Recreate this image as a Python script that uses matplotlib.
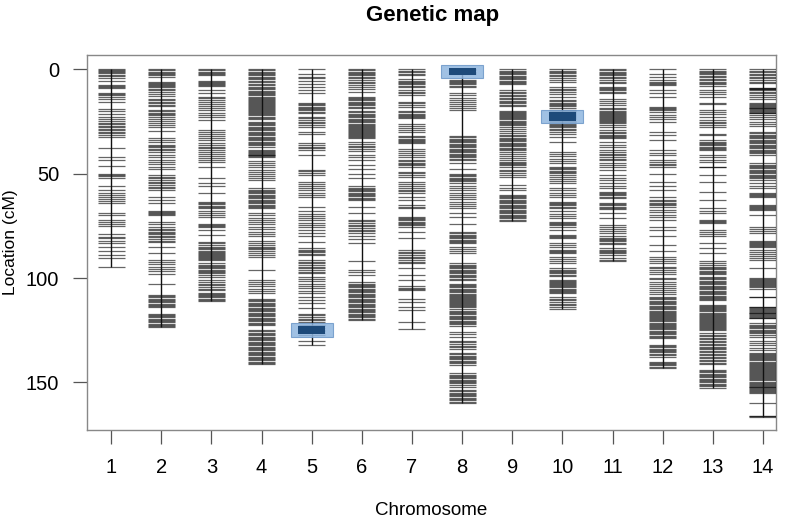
import matplotlib
matplotlib.use("Agg")
import matplotlib.pyplot as plt
from matplotlib.patches import Rectangle

plt.rcParams['font.family'] = ['Liberation Sans', 'DejaVu Sans']

# marker positions (cM), one list per chromosome
chr1 = [0, 0.4, 0.8, 1.3, 1.8, 2.5, 3.2, 4.1, 5.4, 7.4, 7.9, 8.4, 9.0, 11.4, 11.9, 12.4, 13.0, 14.1, 15.5,
        19.0, 20.1, 21.2, 23.0, 23.8, 24.6, 25.5, 26.3, 27.2, 27.8, 28.4, 29.1, 29.9, 30.6, 31.4, 32.3,
        37.9, 42.0, 43.2, 46.1, 50.0, 50.6, 51.2, 52.0, 56.1, 58.0, 59.0, 60.1, 61.0, 62.0, 63.0, 64.1,
        69.0, 69.6, 72.1, 73.2, 74.0, 75.1, 79.0, 80.1, 81.0, 82.1, 83.2, 85.0, 87.1, 89.0, 90.2, 94.8]
chr2 = [0, 0.5, 1.0, 1.6, 2.2, 2.8, 3.4, 6.0, 6.4, 6.9, 7.3, 7.8, 8.3, 9.2, 10.1, 11.0, 12.0, 12.9,
        14.1, 14.8, 15.5, 16.2, 16.9, 17.6, 19.5, 20.1, 20.7, 21.4, 22.0, 22.6, 23.6, 24.5, 25.5, 26.5, 27.4,
        29.4, 33.0, 33.8, 34.6, 36.0, 36.7, 37.4, 38.1, 38.8, 39.5, 41.0, 42.2, 43.4, 44.5, 45.5, 46.6, 47.7,
        50.6, 51.4, 52.2, 53.0, 53.8, 54.6, 55.4, 56.2, 57.0, 57.8, 61.0, 62.7, 63.9,
        68.0, 68.5, 69.0, 69.5, 70.0, 73.1, 74.2, 75.3, 76.3, 77.0, 77.7, 78.4, 79.1, 79.8, 80.5, 81.2, 82.0, 82.8,
        85.0, 88.1, 91.2, 92.3, 93.4, 94.6, 95.7, 96.8, 97.9, 102.6,
        108.0, 108.6, 109.2, 109.8, 110.4, 111.0, 111.6, 112.2, 112.8, 113.4, 114.0,
        117.0, 117.6, 118.2, 118.8, 119.4, 120.0, 120.6, 121.2, 121.8, 122.4, 123.0, 123.5]
chr3 = [0, 0.5, 1.0, 1.5, 2.1, 2.7, 5.4, 5.9, 6.4, 7.0, 7.5, 8.0, 10.0, 11.5, 13.0, 13.8, 14.7, 15.5,
        16.5, 17.5, 18.5, 19.5, 21.0, 21.8, 22.6, 24.3, 29.0, 30.0, 31.0, 32.0, 33.0, 34.0,
        35.5, 36.3, 37.1, 37.9, 38.7, 39.5, 40.5, 41.5, 42.5, 43.5, 44.5, 47.0, 52.0, 54.6, 56.0, 59.4,
        63.4, 64.0, 64.6, 65.3, 66.0, 66.6, 68.0, 68.9, 69.8, 70.6, 74.0, 74.5, 75.0, 75.4, 77.0, 79.4,
        82.6, 83.4, 84.2, 85.0, 85.8, 86.3, 86.8, 87.3, 87.8, 88.3, 88.8, 89.3, 89.8, 90.3, 90.9, 91.4,
        93.0, 93.6, 94.2, 94.8, 95.4, 96.0, 96.6, 97.2, 97.8, 98.5, 99.3,
        101.0, 101.8, 102.6, 103.4, 104.2, 105.0, 105.8, 107.0, 107.5, 108.0, 108.6, 109.2, 109.8, 110.3, 110.8]
chr4 = [0, 0.5, 1.0, 1.6, 2.2, 2.8, 3.4, 4.0, 4.7, 5.4, 6.1, 6.8, 7.5, 8.2, 8.9, 9.6, 10.3, 11.0,
        11.5, 12.0, 12.5, 13.0, 13.5, 14.0, 14.5, 15.0, 15.5, 16.0, 16.5, 17.0, 17.5, 18.0, 18.5, 19.0,
        19.5, 20.0, 20.5, 21.0, 21.5, 22.0, 22.6, 23.2, 23.8,
        25.0, 25.6, 26.2, 26.8, 27.4, 28.0, 28.6, 29.2, 29.8, 30.4, 31.0, 31.6, 32.2, 32.8, 33.4, 34.0,
        34.6, 35.2, 35.8, 36.4, 37.0, 38.7, 39.2, 39.6, 40.0, 40.4, 40.8, 41.2, 41.6, 42.0,
        44.0, 45.0, 46.0, 47.0, 48.0, 49.0, 50.0, 51.0, 52.0, 53.0,
        57.0, 57.6, 58.2, 58.8, 59.4, 60.0, 60.6, 61.2, 61.8, 62.4, 63.0, 63.6, 64.2, 64.8, 65.4, 66.0, 66.6,
        69.0, 70.0, 71.0, 72.0, 73.0, 74.0, 75.5, 76.6, 77.7, 78.8, 80.0,
        82.0, 83.0, 84.0, 85.0, 85.6, 86.2, 87.0, 88.0, 89.0, 90.0, 96.0,
        101.0, 102.0, 103.0, 104.0, 105.0, 106.0, 107.0,
        110.0, 110.6, 111.2, 111.8, 112.4, 113.0, 113.6, 114.2, 114.8, 115.4, 116.0, 116.6, 117.2, 117.8,
        118.4, 119.0, 119.6, 120.2, 120.8, 121.4, 122.0, 122.6,
        125.0, 125.6, 126.2, 126.8, 127.4, 128.0, 128.6, 129.2, 129.8, 130.4, 131.0, 131.6, 132.2, 132.8,
        133.4, 134.0, 134.6, 135.2, 135.8, 136.4, 137.0, 137.6, 138.2, 138.8, 139.4, 140.0, 140.6, 141.3]
chr5 = [0, 2.0, 3.5, 4.3, 5.4, 7.0, 8.3, 10.0, 11.5, 16.0, 16.6, 17.2, 17.8, 18.4, 19.0, 19.6, 20.2, 20.8,
        22.7, 23.5, 24.3, 25.1, 25.9, 26.7, 27.5, 30.0, 31.0, 35.5, 36.3, 37.1, 37.9, 38.7, 41.0,
        48.0, 48.9, 49.8, 50.6, 54.0, 55.0, 56.0, 57.0, 58.0, 59.0, 60.0, 61.0, 66.0,
        68.0, 69.1, 70.2, 71.4, 72.4, 73.5, 74.5, 75.4, 77.0, 78.6, 80.0, 82.6,
        85.8, 86.4, 87.0, 87.6, 88.3, 89.0, 91.4, 92.2, 93.0, 93.8, 94.6, 95.4, 96.2, 97.0, 97.8,
        99.4, 100.5, 101.6, 102.7, 103.8, 104.9, 106.0, 107.0, 109.0, 110.5, 112.0, 114.5,
        117.0, 117.8, 118.6, 119.4, 120.2, 121.0, 122.5, 123.2, 124.0, 124.8, 125.6, 126.4, 127.3, 130.0, 132.0]
chr6 = [0, 0.5, 1.0, 1.6, 2.2, 2.7, 3.5, 4.3, 5.1, 5.9, 6.7, 7.5, 8.5, 9.6, 10.7,
        13.0, 13.6, 14.2, 14.8, 15.4, 16.0, 16.6, 17.2, 17.9, 18.7,
        20.0, 20.6, 21.2, 21.8, 22.4, 23.0, 23.6, 24.2, 24.8, 25.4, 26.0,
        26.5, 27.0, 27.5, 28.0, 28.5, 29.0, 29.5, 30.0, 30.5, 31.0, 31.5, 32.0, 32.5, 33.0,
        35.0, 35.8, 36.6, 37.4, 38.2, 39.0, 41.0, 42.2, 43.4, 46.0, 47.5, 50.0, 52.0,
        56.0, 56.6, 57.2, 57.8, 58.4, 59.0, 59.6, 60.2, 60.8, 61.4, 62.0, 62.6, 66.0, 69.0,
        72.0, 72.8, 73.6, 74.4, 75.2, 76.0, 76.8, 77.6, 78.6, 80.0, 81.5, 83.0, 92.0, 96.0, 97.3, 98.6,
        102.0, 102.6, 103.2, 103.8, 104.4, 105.0, 105.6, 106.2, 106.8, 107.4, 108.0, 108.6, 109.2, 109.8,
        110.4, 111.0, 111.6, 112.2, 112.8, 113.4, 114.0, 114.6, 115.2, 115.8, 116.4, 117.0, 117.6, 118.2,
        118.8, 119.4, 119.9]
chr7 = [0, 0.7, 1.4, 2.0, 2.7, 4.8, 5.4, 6.0, 6.6, 7.2, 7.8, 8.3, 10.0, 10.8, 11.5, 12.3,
        15.5, 16.3, 17.1, 18.0, 20.0, 20.6, 21.2, 21.8, 22.4, 23.0, 23.5, 26.0, 27.0, 28.0, 29.0, 30.0,
        32.0, 32.6, 33.2, 33.8, 34.4, 35.0, 35.5, 38.0, 39.0, 40.0, 41.0, 42.0,
        43.5, 44.1, 44.7, 45.3, 45.9, 46.7, 49.0, 49.8, 50.6, 51.5, 54.0, 54.9, 55.8, 56.7, 57.6, 58.5, 59.4,
        61.0, 62.6, 65.0, 65.8, 66.6, 70.6, 71.2, 71.8, 72.4, 73.0, 73.6, 74.2, 74.8, 75.4, 78.0, 81.0,
        86.6, 87.4, 88.2, 89.0, 89.8, 90.6, 91.4, 92.2, 93.0, 95.4, 98.6, 101.0,
        104.0, 104.6, 105.2, 105.8, 110.0, 111.4, 114.0, 115.3, 121.0, 124.6]
chr8 = [0, 0.5, 1.0, 1.5, 2.0, 5.0, 5.5, 6.0, 6.6, 7.2, 7.8, 8.3,
        11.5, 12.5, 13.5, 14.5, 15.5, 16.5, 17.5, 18.5, 19.5,
        32.0, 32.6, 33.2, 33.8, 34.4, 35.0, 35.6, 36.2, 36.8, 37.4, 38.0, 38.6, 39.2, 39.8, 40.4, 41.0,
        41.6, 42.2, 42.8, 43.5, 45.0, 47.5, 50.0, 50.6, 51.2, 51.8, 52.4, 53.0, 53.6, 54.2,
        56.0, 57.0, 58.0, 59.0, 60.0, 61.0, 62.0, 63.5, 64.5, 65.5, 66.6, 69.0, 70.6, 74.0,
        78.0, 78.6, 79.2, 79.8, 80.4, 81.0, 81.6, 82.2, 82.8, 83.4, 85.0, 86.0, 87.0, 88.0,
        93.0, 93.6, 94.2, 94.8, 95.4, 96.0, 96.6, 97.2, 97.8, 98.4, 99.0, 99.6, 100.3, 101.0,
        102.6, 103.2, 103.8, 104.4, 105.0, 105.6, 106.2, 106.8, 107.4, 107.9, 108.4, 108.9, 109.4, 109.9,
        110.4, 110.9, 111.4, 111.9, 112.4, 112.9, 113.4, 113.8,
        115.0, 115.6, 116.2, 116.8, 117.4, 118.0, 118.6, 119.2, 119.8, 120.4, 121.0, 121.6, 122.2, 123.0,
        125.7, 126.8, 128.0, 130.0, 130.8, 131.6, 132.4, 133.2, 134.0,
        136.0, 136.6, 137.2, 137.8, 138.4, 139.0, 139.6, 140.2, 140.8, 141.5,
        145.7, 146.3, 146.9, 147.5, 148.1, 148.7, 149.3, 149.9, 150.5, 151.2, 152.0,
        153.7, 154.3, 154.9, 155.5, 156.1, 156.7, 157.3, 157.9, 158.5, 159.2, 160.0]
chr9 = [0, 0.6, 1.2, 1.8, 2.4, 3.0, 3.6, 4.2, 4.8, 5.4, 6.0, 6.6, 7.2,
        10.0, 10.7, 11.4, 12.1, 12.8, 13.5, 14.2, 14.9, 15.6, 16.3, 17.0, 17.7,
        20.0, 20.5, 21.0, 21.5, 22.0, 22.5, 23.0, 23.5, 24.0, 24.5, 25.0, 25.5, 26.0,
        26.7, 27.7, 28.7, 29.7, 30.7, 31.5, 32.1, 32.7, 33.3, 33.9, 34.5, 35.1, 35.7, 36.3, 36.9, 37.5,
        38.1, 38.7, 39.5, 40.5, 41.5, 42.5, 43.5, 44.2, 44.8, 45.4, 46.0, 46.7,
        48.0, 48.9, 49.8, 50.6, 51.5, 55.5, 56.7, 58.0,
        60.0, 60.6, 61.2, 61.8, 62.4, 63.0, 63.6, 64.2, 64.8, 65.4, 66.0, 66.6, 67.2, 67.8, 68.4, 69.0,
        69.6, 70.2, 70.8, 71.4, 72.0, 72.6]
chr10 = [0, 0.6, 1.2, 1.8, 2.5, 3.3, 4.1, 5.0, 6.0, 8.3, 9.2, 10.1, 11.0, 12.0, 13.0,
         14.7, 15.3, 15.9, 16.5, 17.1, 17.7, 18.3, 19.5, 20.0, 20.5, 21.0, 21.5, 22.0, 22.5, 23.0, 23.5,
         24.0, 24.5, 25.0, 26.0, 26.6, 27.2, 27.8, 28.4, 29.0, 30.0, 31.0, 32.3, 35.0,
         39.5, 40.6, 41.7, 42.8, 43.9, 45.0, 46.7, 47.3, 47.9, 48.5, 49.1, 49.7, 50.6,
         51.5, 52.5, 53.5, 54.6, 57.0, 58.0, 59.0, 60.0, 61.0, 63.4, 64.0, 64.6, 65.2, 65.8, 66.6,
         68.0, 69.1, 70.2, 71.4, 73.0, 73.6, 74.2, 74.8, 75.4, 77.0, 79.4, 79.9, 80.4, 81.0,
         83.4, 84.2, 85.0, 86.6, 87.1, 87.6, 88.0, 90.0, 91.0, 92.0, 93.0,
         95.4, 96.0, 96.6, 97.2, 97.8, 98.4, 99.0, 101.0, 101.5, 102.0, 102.5, 103.0, 103.5, 104.0,
         104.5, 105.0, 105.5, 106.0, 106.5, 107.0, 109.0, 109.8, 110.6, 111.4, 112.2, 113.0, 113.8, 114.8]
chr11 = [0, 0.5, 1.0, 1.6, 2.2, 2.7, 3.5, 4.3, 5.1, 5.9, 6.7, 8.3, 8.9, 9.5, 10.1, 10.7, 11.3,
         14.0, 15.0, 16.0, 17.0, 18.7, 19.2, 19.7, 20.2, 20.7, 21.2, 21.7, 22.2, 22.7, 23.2, 23.7, 24.2,
         24.7, 25.2, 25.7, 26.7, 27.8, 29.0, 30.0, 30.6, 31.2, 31.8, 32.4, 33.0, 35.0, 36.0, 37.0,
         38.7, 39.5, 40.3, 41.1, 41.9, 42.7, 43.5, 45.0, 46.0, 47.0, 48.0, 50.6, 51.8, 53.0,
         54.6, 55.8, 57.0, 58.6, 59.2, 59.8, 60.4, 61.0, 61.8, 64.0, 64.6, 65.2, 65.8, 66.4, 67.0,
         69.0, 71.4, 74.6, 75.6, 76.6, 77.6, 78.6, 80.0, 80.6, 81.2, 81.8, 82.4, 83.0, 83.6,
         85.8, 86.4, 87.0, 87.6, 88.2, 89.0, 90.6, 91.2, 91.8]
chr12 = [0, 2.0, 3.5, 5.0, 6.0, 6.5, 7.0, 7.5, 10.0, 11.5, 13.0, 18.0, 18.5, 19.0, 19.6, 20.3,
         22.0, 23.0, 24.0, 25.0, 30.0, 31.5, 34.0, 38.7, 39.9, 41.0, 43.5, 44.3, 45.1, 45.9, 46.7,
         50.0, 54.0, 56.0, 58.0, 61.0, 62.7, 63.3, 63.9, 64.5, 65.2, 66.0, 67.4, 68.5, 69.6, 70.6,
         72.0, 75.4, 77.0, 80.0, 84.0, 87.0, 90.0, 91.0, 92.0, 93.0, 94.6, 95.4, 96.2, 97.1, 98.0,
         100.0, 100.3, 101.8, 102.8, 103.8, 104.8, 105.8, 106.8, 107.4,
         109.0, 109.6, 110.2, 110.8, 111.4, 112.0, 112.6, 113.2, 113.8, 114.4, 115.0, 115.6, 116.2, 116.8,
         117.3, 117.8, 118.3, 118.8, 119.3, 119.8, 120.3, 120.8, 121.3, 121.8, 122.3, 122.8,
         123.4, 124.0, 124.6, 125.2, 125.8, 126.4, 127.0, 127.6, 128.2, 128.9,
         132.0, 132.6, 133.2, 133.8, 134.4, 135.0, 135.6, 136.2, 136.8, 137.6,
         140.0, 140.6, 141.2, 141.8, 142.5, 143.2]
chr13 = [0, 0.6, 1.2, 1.8, 2.4, 3.0, 3.7, 4.4, 5.1, 5.8, 6.5, 7.2, 8.0, 10.0, 11.0, 12.0, 13.0,
         16.3, 16.6, 19.5, 20.5, 21.6, 22.7, 24.3, 25.1, 25.9, 26.7, 27.5, 31.0, 31.3,
         34.0, 34.6, 35.2, 35.8, 36.4, 37.0, 37.6, 38.2, 38.7, 41.0, 42.1, 43.2, 44.3, 46.7, 47.0,
         50.6, 54.0, 58.6, 62.6, 66.6, 67.8, 69.0, 72.0, 72.6, 73.2, 73.8, 77.0, 78.0, 79.0, 80.0,
         83.4, 85.8, 88.0, 92.0, 93.0, 93.8, 94.6, 95.2, 95.8, 96.4, 97.0, 97.6, 98.0,
         99.4, 100.0, 100.6, 101.2, 101.8, 102.4, 103.0, 103.6, 104.2, 104.8, 105.4, 106.0, 106.6,
         107.2, 107.8, 108.4, 109.0, 109.6, 110.2, 110.6,
         113.0, 113.5, 114.0, 114.5, 115.0, 115.5, 116.0, 116.5, 117.0, 117.5, 118.0, 118.5, 119.0,
         119.5, 120.0, 120.5, 121.0, 121.5, 122.0, 122.5, 123.0, 123.5, 124.0, 124.5, 125.0,
         126.5, 127.2, 127.9, 128.6, 129.3, 130.0, 130.7, 131.4, 132.1, 132.8, 133.5, 134.2, 134.9,
         135.6, 136.3, 137.0, 137.7, 138.4, 139.1, 139.8, 140.5, 141.0,
         144.0, 144.6, 145.2, 145.8, 146.4, 147.0, 147.6, 148.2, 148.8, 149.4, 150.0, 150.6, 151.2,
         151.8, 152.5]
chr14 = [0, 0.7, 1.4, 2.1, 2.8, 3.5, 4.3, 5.1, 5.9, 6.7, 8.7, 9.0, 9.3, 9.6, 10.0,
         10.7, 11.5, 12.3, 13.1, 14.0, 16.3, 16.7, 17.1, 17.5, 17.9, 18.3, 18.7, 19.1, 19.5, 19.9,
         20.3, 20.7, 21.0, 22.0, 23.0, 24.0, 25.0, 26.0, 27.0,
         30.0, 30.6, 31.2, 31.8, 32.4, 33.0, 33.6, 34.2, 34.8, 35.4, 36.0, 36.6, 37.2, 37.8, 38.4,
         39.0, 39.6, 40.2, 41.0, 45.0, 45.6, 46.2, 46.8, 47.4, 48.0, 48.6, 49.2, 49.8, 50.4, 51.0,
         51.6, 52.2, 53.0, 54.6, 55.8, 57.0, 59.4, 59.8, 60.2, 60.6, 61.0,
         65.0, 65.5, 66.0, 66.5, 67.0, 67.4, 70.0, 75.4, 76.5, 77.6, 78.6,
         82.0, 82.5, 83.0, 83.5, 84.0, 84.5, 85.0, 86.6, 87.6, 88.6, 89.6, 90.6, 91.4, 95.4,
         100.0, 100.5, 101.0, 101.5, 102.0, 102.5, 103.0, 103.5, 104.0, 104.5, 105.0, 109.0, 109.3,
         113.7, 114.1, 114.5, 114.9, 115.3, 115.7, 116.1, 116.5, 116.9, 117.3, 117.7, 118.1, 118.5,
         118.9, 119.3, 121.7, 122.3, 122.9, 123.5, 124.1, 124.7, 125.3, 125.9, 126.5, 127.1, 128.0,
         130.0, 131.1, 132.2, 133.3, 134.5,
         136.0, 136.5, 137.0, 137.5, 138.0, 138.5, 139.0, 139.5, 140.0, 140.5, 141.0, 141.5, 142.0,
         142.5, 143.0, 143.5, 144.0, 144.5, 145.0, 145.5, 146.0, 146.5, 147.0, 147.5, 148.0, 148.5, 149.0,
         150.0, 150.4, 150.8, 151.2, 151.6, 152.0, 152.4, 152.8, 153.2, 153.6, 154.0, 154.4, 155.0,
         160.0, 166.0, 166.2, 166.4]

chromosomes = [chr1, chr2, chr3, chr4, chr5, chr6, chr7, chr8, chr9, chr10, chr11, chr12, chr13, chr14]
chrom_labels = [str(i) for i in range(1, 15)]

# highlighted intervals (QTL regions)
hl_chrom = [5, 8, 10]
hl_lo = [122.8, -0.8, 20.6]
hl_hi = [127.0, 2.7, 24.6]

fig = plt.figure(figsize=(7.93, 5.21), dpi=100)
ax = fig.add_axes([0.1097, 0.1747, 0.8689, 0.7197])

hw = 0.27
for i, pos in enumerate(chromosomes):
    x = i + 1
    ax.vlines(x, min(pos), max(pos), color='#111111', lw=1.0, zorder=4)
    ax.hlines(pos, x - hw, x + hw, color='black', lw=0.9, alpha=0.6, zorder=3)

for c, lo, hi in zip(hl_chrom, hl_lo, hl_hi):
    ax.add_patch(Rectangle((c - 0.42, lo - 1.3), 0.84, hi - lo + 2.6, facecolor='#8fb6e0',
                           edgecolor='#6d98c8', lw=0.8, alpha=0.85, zorder=5))
    ax.add_patch(Rectangle((c - hw, lo), 2 * hw, hi - lo, facecolor='#1d4a7a',
                           edgecolor='none', zorder=6))

ax.set_xlim(0.52, 14.26)
ax.set_ylim(172.8, -6.9)
ax.set_xticks(range(1, 15))
ax.set_xticklabels(chrom_labels)
ax.set_yticks([0, 50, 100, 150])
ax.tick_params(axis='both', length=10, width=0.9, color='#555555', labelsize=14.5, pad=10)
for s in ax.spines.values():
    s.set_color('#888888')
    s.set_linewidth(1.0)

ax.set_xlabel('Chromosome', fontsize=13.5, labelpad=18)
ax.set_ylabel('Location (cM)', fontsize=12.5, labelpad=6)
fig.suptitle('Genetic map', fontsize=16, fontweight='bold', x=0.545, y=0.99)

fig.savefig('out.png', dpi=100)
